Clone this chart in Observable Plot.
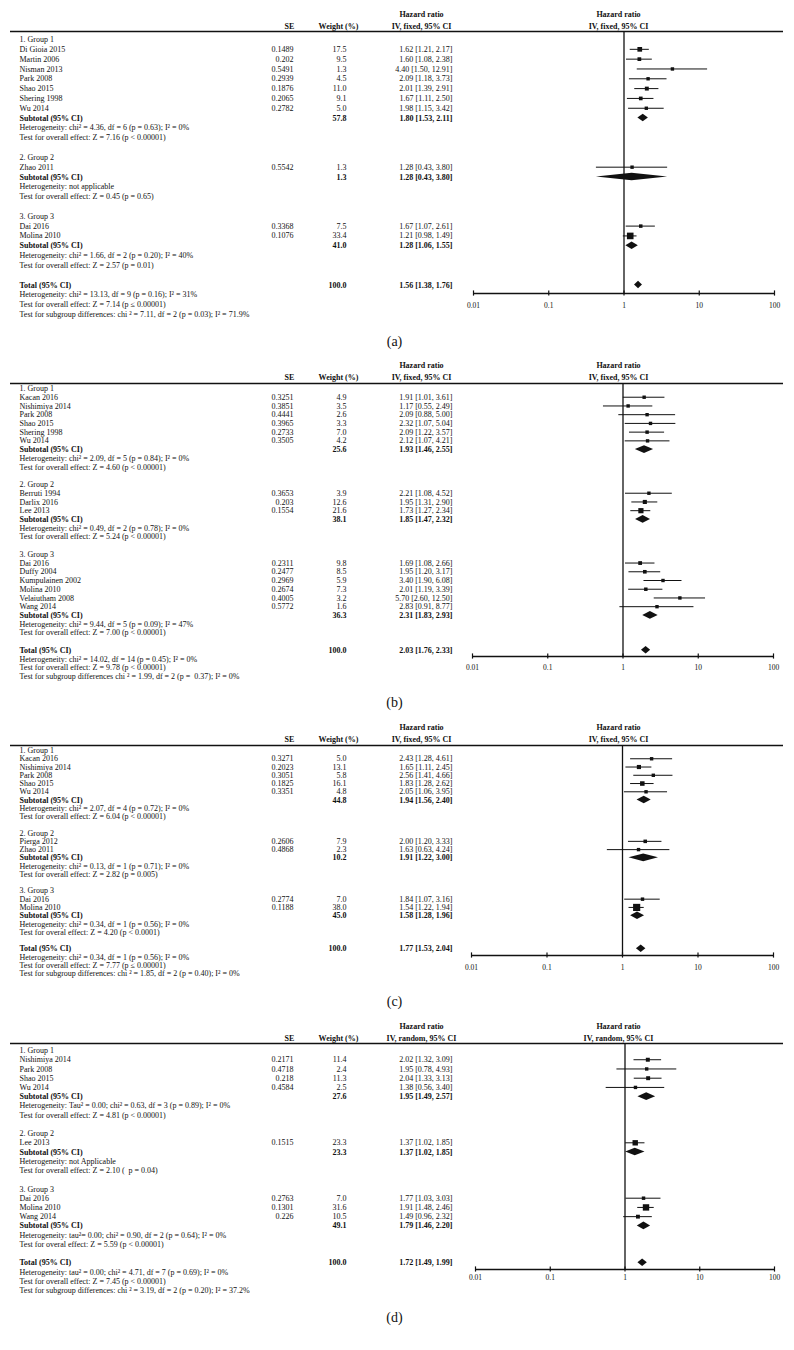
<!DOCTYPE html>
<html><head><meta charset="utf-8">
<script src="https://cdn.jsdelivr.net/npm/d3@7"></script>
<script src="https://cdn.jsdelivr.net/npm/@observablehq/plot@0.6"></script>
<style>
body{margin:0;background:#fff;}
#chart{width:794px;}
#chart svg{display:block;}
</style></head><body><div id="chart"></div>
<script>
// ---------- shared ----------
const groupNames = ["1. Group 1", "2. Group 2", "3. Group 3"];
const tickValues = [0.01, 0.1, 1, 10, 100];
const tickLabels = ["0.01", "0.1", "1", "10", "100"];

// ---------- panel (a) ----------
const aMethod = "IV, fixed, 95% CI";
const aStudy = ["Di Gioia 2015", "Martin 2006", "Nisman 2013", "Park 2008", "Shao 2015", "Shering 1998", "Wu 2014", "Zhao 2011", "Dai 2016", "Molina 2010"];
const aGroup = [0, 0, 0, 0, 0, 0, 0, 1, 2, 2];
const aSE = [0.1489, 0.202, 0.5491, 0.2939, 0.1876, 0.2065, 0.2782, 0.5542, 0.3368, 0.1076];
const aWeight = [17.5, 9.5, 1.3, 4.5, 11.0, 9.1, 5.0, 1.3, 7.5, 33.4];
const aHR = [1.62, 1.60, 4.40, 2.09, 2.01, 1.67, 1.98, 1.28, 1.67, 1.21];
const aLow = [1.21, 1.08, 1.50, 1.18, 1.39, 1.11, 1.15, 0.43, 1.07, 0.98];
const aHigh = [2.17, 2.38, 12.91, 3.73, 2.91, 2.50, 3.42, 3.80, 2.61, 1.49];
const aSubWeight = [57.8, 1.3, 41.0];
const aSubHR = [1.80, 1.28, 1.28];
const aSubLow = [1.53, 0.43, 1.06];
const aSubHigh = [2.11, 3.80, 1.55];
const aHet = ["Heterogeneity: chi² = 4.36, df = 6 (p = 0.63); I² = 0%", "Heterogeneity: not applicable", "Heterogeneity: chi² = 1.66, df = 2 (p = 0.20); I² = 40%"];
const aEffect = ["Test for overall effect: Z = 7.16 (p < 0.00001)", "Test for overall effect: Z = 0.45 (p = 0.65)", "Test for overall effect: Z = 2.57 (p = 0.01)"];
const aTotal = [100.0, 1.56, 1.38, 1.76];
const aTotalNotes = ["Heterogeneity: chi² = 13.13, df = 9 (p = 0.16); I² = 31%", "Test for overall effect: Z = 7.14 (p ≤ 0.00001)", "Test for subgroup differences: chi ² = 7.11, df = 2 (p = 0.03); I² = 71.9%"];

// ---------- panel (b) ----------
const bMethod = "IV, fixed, 95% CI";
const bStudy = ["Kacan 2016", "Nishimiya 2014", "Park 2008", "Shao 2015", "Shering 1998", "Wu 2014", "Berruti 1994", "Darlix 2016", "Lee 2013", "Dai 2016", "Duffy 2004", "Kumpulainen 2002", "Molina 2010", "Velaiutham 2008", "Wang 2014"];
const bGroup = [0, 0, 0, 0, 0, 0, 1, 1, 1, 2, 2, 2, 2, 2, 2];
const bSE = [0.3251, 0.3851, 0.4441, 0.3965, 0.2733, 0.3505, 0.3653, 0.203, 0.1554, 0.2311, 0.2477, 0.2969, 0.2674, 0.4005, 0.5772];
const bWeight = [4.9, 3.5, 2.6, 3.3, 7.0, 4.2, 3.9, 12.6, 21.6, 9.8, 8.5, 5.9, 7.3, 3.2, 1.6];
const bHR = [1.91, 1.17, 2.09, 2.32, 2.09, 2.12, 2.21, 1.95, 1.73, 1.69, 1.95, 3.40, 2.01, 5.70, 2.83];
const bLow = [1.01, 0.55, 0.88, 1.07, 1.22, 1.07, 1.08, 1.31, 1.27, 1.08, 1.20, 1.90, 1.19, 2.60, 0.91];
const bHigh = [3.61, 2.49, 5.00, 5.04, 3.57, 4.21, 4.52, 2.90, 2.34, 2.66, 3.17, 6.08, 3.39, 12.50, 8.77];
const bSubWeight = [25.6, 38.1, 36.3];
const bSubHR = [1.93, 1.85, 2.31];
const bSubLow = [1.46, 1.47, 1.83];
const bSubHigh = [2.55, 2.32, 2.93];
const bHet = ["Heterogeneity: chi² = 2.09, df = 5 (p = 0.84); I² = 0%", "Heterogeneity: chi² = 0.49, df = 2 (p = 0.78); I² = 0%", "Heterogeneity: chi² = 9.44, df = 5 (p = 0.09); I² = 47%"];
const bEffect = ["Test for overall effect: Z = 4.60 (p < 0.00001)", "Test for overall effect: Z = 5.24 (p < 0.00001)", "Test for overall effect: Z = 7.00 (p < 0.00001)"];
const bTotal = [100.0, 2.03, 1.76, 2.33];
const bTotalNotes = ["Heterogeneity: chi² = 14.02, df = 14 (p = 0.45); I² = 0%", "Test for overall effect: Z = 9.78 (p < 0.00001)", "Test for subgroup differences chi ² = 1.99, df = 2 (p =  0.37); I² = 0%"];

// ---------- panel (c) ----------
const cMethod = "IV, fixed, 95% CI";
const cStudy = ["Kacan 2016", "Nishimiya 2014", "Park 2008", "Shao 2015", "Wu 2014", "Pierga 2012", "Zhao 2011", "Dai 2016", "Molina 2010"];
const cGroup = [0, 0, 0, 0, 0, 1, 1, 2, 2];
const cSE = [0.3271, 0.2023, 0.3051, 0.1825, 0.3351, 0.2606, 0.4868, 0.2774, 0.1188];
const cWeight = [5.0, 13.1, 5.8, 16.1, 4.8, 7.9, 2.3, 7.0, 38.0];
const cHR = [2.43, 1.65, 2.56, 1.83, 2.05, 2.00, 1.63, 1.84, 1.54];
const cLow = [1.28, 1.11, 1.41, 1.28, 1.06, 1.20, 0.63, 1.07, 1.22];
const cHigh = [4.61, 2.45, 4.66, 2.62, 3.95, 3.33, 4.24, 3.16, 1.94];
const cSubWeight = [44.8, 10.2, 45.0];
const cSubHR = [1.94, 1.91, 1.58];
const cSubLow = [1.56, 1.22, 1.28];
const cSubHigh = [2.40, 3.00, 1.96];
const cHet = ["Heterogeneity: chi² = 2.07, df = 4 (p = 0.72); I² = 0%", "Heterogeneity: chi² = 0.13, df = 1 (p = 0.71); I² = 0%", "Heterogeneity: chi² = 0.34, df = 1 (p = 0.56); I² = 0%"];
const cEffect = ["Test for overall effect: Z = 6.04 (p < 0.00001)", "Test for overall effect: Z = 2.82 (p = 0.005)", "Test for overal effect: Z = 4.20 (p < 0.0001)"];
const cTotal = [100.0, 1.77, 1.53, 2.04];
const cTotalNotes = ["Heterogeneity: chi² = 0.34, df = 1 (p = 0.56); I² = 0%", "Test for overall effect: Z = 7.77 (p ≤ 0.00001)", "Test for subgroup differences: chi ² = 1.85, df = 2 (p = 0.40); I² = 0%"];

// ---------- panel (d) ----------
const dMethod = "IV, random, 95% CI";
const dStudy = ["Nishimiya 2014", "Park 2008", "Shao 2015", "Wu 2014", "Lee 2013", "Dai 2016", "Molina 2010", "Wang 2014"];
const dGroup = [0, 0, 0, 0, 1, 2, 2, 2];
const dSE = [0.2171, 0.4718, 0.218, 0.4584, 0.1515, 0.2763, 0.1301, 0.226];
const dWeight = [11.4, 2.4, 11.3, 2.5, 23.3, 7.0, 31.6, 10.5];
const dHR = [2.02, 1.95, 2.04, 1.38, 1.37, 1.77, 1.91, 1.49];
const dLow = [1.32, 0.78, 1.33, 0.56, 1.02, 1.03, 1.48, 0.96];
const dHigh = [3.09, 4.93, 3.13, 3.40, 1.85, 3.03, 2.46, 2.32];
const dSubWeight = [27.6, 23.3, 49.1];
const dSubHR = [1.95, 1.37, 1.79];
const dSubLow = [1.49, 1.02, 1.46];
const dSubHigh = [2.57, 1.85, 2.20];
const dHet = ["Heterogeneity: Tau² = 0.00; chi² = 0.63, df = 3 (p = 0.89); I² = 0%", "Heterogeneity: not Applicable", "Heterogeneity: tau²= 0.00; chi² = 0.90, df = 2 (p = 0.64); I² = 0%"];
const dEffect = ["Test for overall effect: Z = 4.81 (p < 0.00001)", "Test for overall effect: Z = 2.10 (  p = 0.04)", "Test for overal effect: Z = 5.59 (p < 0.00001)"];
const dTotal = [100.0, 1.72, 1.49, 1.99];
const dTotalNotes = ["Heterogeneity: tau² = 0.00; chi² = 4.71, df = 7 (p = 0.69); I² = 0%", "Test for overall effect: Z = 7.45 (p < 0.00001)", "Test for subgroup differences: chi ² = 3.19, df = 2 (p = 0.20); I² = 37.2%"];

// ---------- layout (pixels within each panel svg) ----------
const ML = 10, MR = 11;
const col = {label: 19, se: 293, w: 346, hr: 452, hdrSE: 289, hdrW: 338, hdrHR: 421, plotHdr: 618, panelLabel: 394};
const ink = "#111111";
const FONT = "'Liberation Serif', 'DejaVu Serif', serif";

function panel(name, method, study, group, se, weight, hr, low, high, subW, subHR, subLo, subHi, het, eff, total, totalNotes, L) {
  const rows = [];
  let r = 0;
  groupNames.forEach((g, gi) => {
    rows.push({row: r++, kind: "group", label: g});
    study.forEach((s, i) => {
      if (group[i] === gi) rows.push({row: r++, kind: "study", label: s, se: se[i], w: weight[i], hr: hr[i], lo: low[i], hi: high[i]});
    });
    rows.push({row: r++, kind: "sub", label: "Subtotal (95% CI)", w: subW[gi], hr: subHR[gi], lo: subLo[gi], hi: subHi[gi]});
    rows.push({row: r++, kind: "note", label: het[gi]});
    rows.push({row: r++, kind: "note", label: eff[gi]});
    r++;
  });
  rows.push({row: r++, kind: "sub", label: "Total (95% CI)", w: total[0], hr: total[1], lo: total[2], hi: total[3]});
  totalNotes.forEach(t => rows.push({row: r++, kind: "note", label: t}));
  const N = r - 1;
  const step = (L.rowN - L.row0) / N;
  const toRow = px => (px - L.row0) / step;
  const studies = rows.filter(d => d.kind === "study");
  const subs = rows.filter(d => d.kind === "sub");
  const plain = rows.filter(d => d.kind !== "sub");
  const hh = 3.8 / step;
  const diamonds = subs.flatMap((d, k) => [
    {id: k, x: d.lo, y1: d.row, y2: d.row},
    {id: k, x: d.hr, y1: d.row - hh, y2: d.row + hh},
    {id: k, x: d.hi, y1: d.row, y2: d.row}
  ]);
  const lineRow = toRow(L.line), axisRow = toRow(L.axis), tk = 2.6 / step;
  const fmtCI = d => `${d.hr.toFixed(2)} [${d.lo.toFixed(2)}, ${d.hi.toFixed(2)}]`;
  const T = (data, o) => Plot.text(data, {frameAnchor: "left", lineAnchor: "middle", fill: ink, ...o, dx: o.dx - ML});
  const hdr = (txt, x, y, anchor) => T([txt], {y: [toRow(y)], text: d => d, dx: x, textAnchor: anchor, fontWeight: "bold"});

  return Plot.plot({
    width: 794, height: L.height,
    marginLeft: ML, marginRight: MR, marginTop: 0, marginBottom: 0,
    style: {fontFamily: FONT, fontSize: "8px", background: "white", color: ink},
    x: {type: "log", domain: [0.01, 100], range: L.xr, axis: null},
    y: {domain: [0, N], range: [L.row0, L.rowN], axis: null},
    r: {type: "identity"},
    marks: [
      // headers
      hdr("Hazard ratio", col.hdrHR, L.hr, "middle"),
      hdr("SE", col.hdrSE, L.col, "middle"),
      hdr("Weight (%)", col.hdrW, L.col, "middle"),
      hdr(method, col.hdrHR, L.col, "middle"),
      hdr("Hazard ratio", col.plotHdr, L.hr, "middle"),
      hdr(method, col.plotHdr, L.col, "middle"),
      Plot.ruleY([lineRow], {stroke: ink, strokeWidth: 1.5}),
      // left text
      T(plain, {y: "row", text: "label", dx: col.label, textAnchor: "start"}),
      T(subs, {y: "row", text: "label", dx: col.label, textAnchor: "start", fontWeight: "bold"}),
      T(studies, {y: "row", text: d => String(d.se), dx: col.se, textAnchor: "end"}),
      T(studies, {y: "row", text: d => d.w.toFixed(1), dx: col.w, textAnchor: "end"}),
      T(subs, {y: "row", text: d => d.w.toFixed(1), dx: col.w, textAnchor: "end", fontWeight: "bold"}),
      T(studies, {y: "row", text: fmtCI, dx: col.hr, textAnchor: "end"}),
      T(subs, {y: "row", text: fmtCI, dx: col.hr, textAnchor: "end", fontWeight: "bold"}),
      // forest
      Plot.ruleX([1], {y1: () => lineRow, y2: () => axisRow, stroke: ink, strokeWidth: 1.3}),
      Plot.ruleY(studies, {y: "row", x1: "lo", x2: "hi", stroke: ink, strokeWidth: 1}),
      Plot.dot(studies, {x: "hr", y: "row", symbol: "square", r: d => Math.max(3.4, 0.12 * d.w + 2.6) / 1.772, fill: ink, stroke: null}),
      Plot.areaY(diamonds, {x: "x", y1: "y1", y2: "y2", z: "id", fill: ink}),
      // axis
      Plot.ruleY([axisRow], {x1: () => tickValues[0], x2: () => tickValues[tickValues.length - 1], stroke: ink, strokeWidth: 1.3}),
      Plot.ruleX(tickValues, {x: d => d, y1: () => axisRow - tk, y2: () => axisRow + tk, stroke: ink, strokeWidth: 1.2}),
      Plot.text(tickValues, {x: d => d, y: () => toRow(L.tick), text: (d, i) => tickLabels[i], fontSize: 7.5, fill: ink}),
      // panel label
      T([name], {y: [toRow(L.label)], text: d => d, dx: col.panelLabel, textAnchor: "middle", fontSize: 14})
    ]
  });
}

const chart = document.getElementById("chart");
chart.append(panel("(a)", aMethod, aStudy, aGroup, aSE, aWeight, aHR, aLow, aHigh, aSubWeight, aSubHR, aSubLow, aSubHigh, aHet, aEffect, aTotal, aTotalNotes,
  {height: 352, hr: 14, col: 26, line: 31, row0: 39, rowN: 314, axis: 293, tick: 305, label: 341, xr: [473, 774]}));
chart.append(panel("(b)", bMethod, bStudy, bGroup, bSE, bWeight, bHR, bLow, bHigh, bSubWeight, bSubHR, bSubLow, bSubHigh, bHet, bEffect, bTotal, bTotalNotes,
  {height: 360, hr: 13, col: 25, line: 31, row0: 36, rowN: 324, axis: 304, tick: 315, label: 350, xr: [472, 773]}));
chart.append(panel("(c)", cMethod, cStudy, cGroup, cSE, cWeight, cHR, cLow, cHigh, cSubWeight, cSubHR, cSubLow, cSubHigh, cHet, cEffect, cTotal, cTotalNotes,
  {height: 298, hr: 15, col: 27, line: 33, row0: 38, rowN: 261, axis: 243, tick: 255, label: 289, xr: [471, 773]}));
chart.append(panel("(d)", dMethod, dStudy, dGroup, dSE, dWeight, dHR, dLow, dHigh, dSubWeight, dSubHR, dSubLow, dSubHigh, dHet, dEffect, dTotal, dTotalNotes,
  {height: 340, hr: 16, col: 28, line: 33, row0: 40, rowN: 280, axis: 259, tick: 267, label: 307, xr: [475, 774]}));
</script></body></html>
